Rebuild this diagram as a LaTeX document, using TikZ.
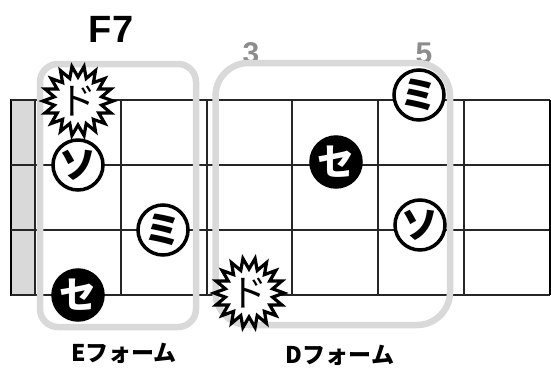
\documentclass[tikz,border=0pt]{standalone}
\usepackage{fontspec}
\setmainfont{Liberation Sans}
\newfontfamily\jp{Noto Sans CJK JP}
\newcommand\burstat[1]{\draw[burst, shift={(#1)}] plot[samples at={0,...,35}] ({(29.5+5.5*cos(180*\x))*cos(10*\x)}, {(29.5+5.5*cos(180*\x))*sin(10*\x)}) -- cycle;}
\begin{document}
\begin{tikzpicture}[x=1pt,y=-1pt,
  gridline/.style={line width=1.8pt, black!85},
  formbox/.style={draw=black!15, line width=6.5pt},
  opennote/.style={circle, draw=black, line width=3.5pt, fill=white, minimum size=50pt, inner sep=0pt, font=\jp\bfseries\fontsize{37}{37}\selectfont},
  solidnote/.style={opennote, fill=black, text=white},
  burst/.style={draw=black, fill=white, line width=3.2pt, line join=miter, miter limit=10},
  bursttext/.style={inner sep=0pt, font=\jp\fontsize{37}{37}\selectfont},
  fretnum/.style={text=black!45, inner sep=0pt, font=\bfseries\fontsize{30}{30}\selectfont},
  formlabel/.style={inner sep=0pt, font=\jp\bfseries\fontsize{23}{23}\selectfont},
  title/.style={inner sep=0pt, font=\bfseries\fontsize{38}{38}\selectfont}]
\useasboundingbox (0,0) rectangle (551,367);
% nut
\draw[fill=black!15, line width=1.3pt] (11,100) rectangle (35,295);
% strings
\foreach \y in {100,165,230,295} \draw[gridline] (11,\y) -- (550,\y);
% frets
\foreach \x in {35,121,207,292,378,464} \draw[gridline] (\x,100) -- (\x,295);
\draw[line width=2.6pt] (550,100) -- (550,295);
% fret numbers
\node[fretnum] (n3) at (251,53) {3};
\node[fretnum] (n5) at (424,53) {5};
% form boxes
\draw[formbox, rounded corners=18pt] (40,64) rectangle (196,327);
\draw[formbox, rounded corners=33pt] (215.5,63) rectangle (450,325);
% E form notes
\coordinate (e1) at (78,101);
\burstat{e1}
\node[bursttext] (edo) at (e1) {ド};
\node[opennote] (eso) at (78,165) {ソ};
\node[opennote] (emi) at (163,230) {ミ};
\node[solidnote] (ese) at (78,295) {セ};
% D form notes
\coordinate (d1) at (249,293);
\burstat{d1}
\node[bursttext] (ddo) at (d1) {ド};
\node[solidnote] (dse) at (336,162) {セ};
\node[opennote] (dmi) at (419,95) {ミ};
\node[opennote] (dso) at (420,225) {ソ};
% labels
\node[title] (f7) at (111,29) {F7};
\node[formlabel] (el) at (124,353) {Eフォーム};
\node[formlabel] (dl) at (340,355) {Dフォーム};
\end{tikzpicture}
\end{document}
